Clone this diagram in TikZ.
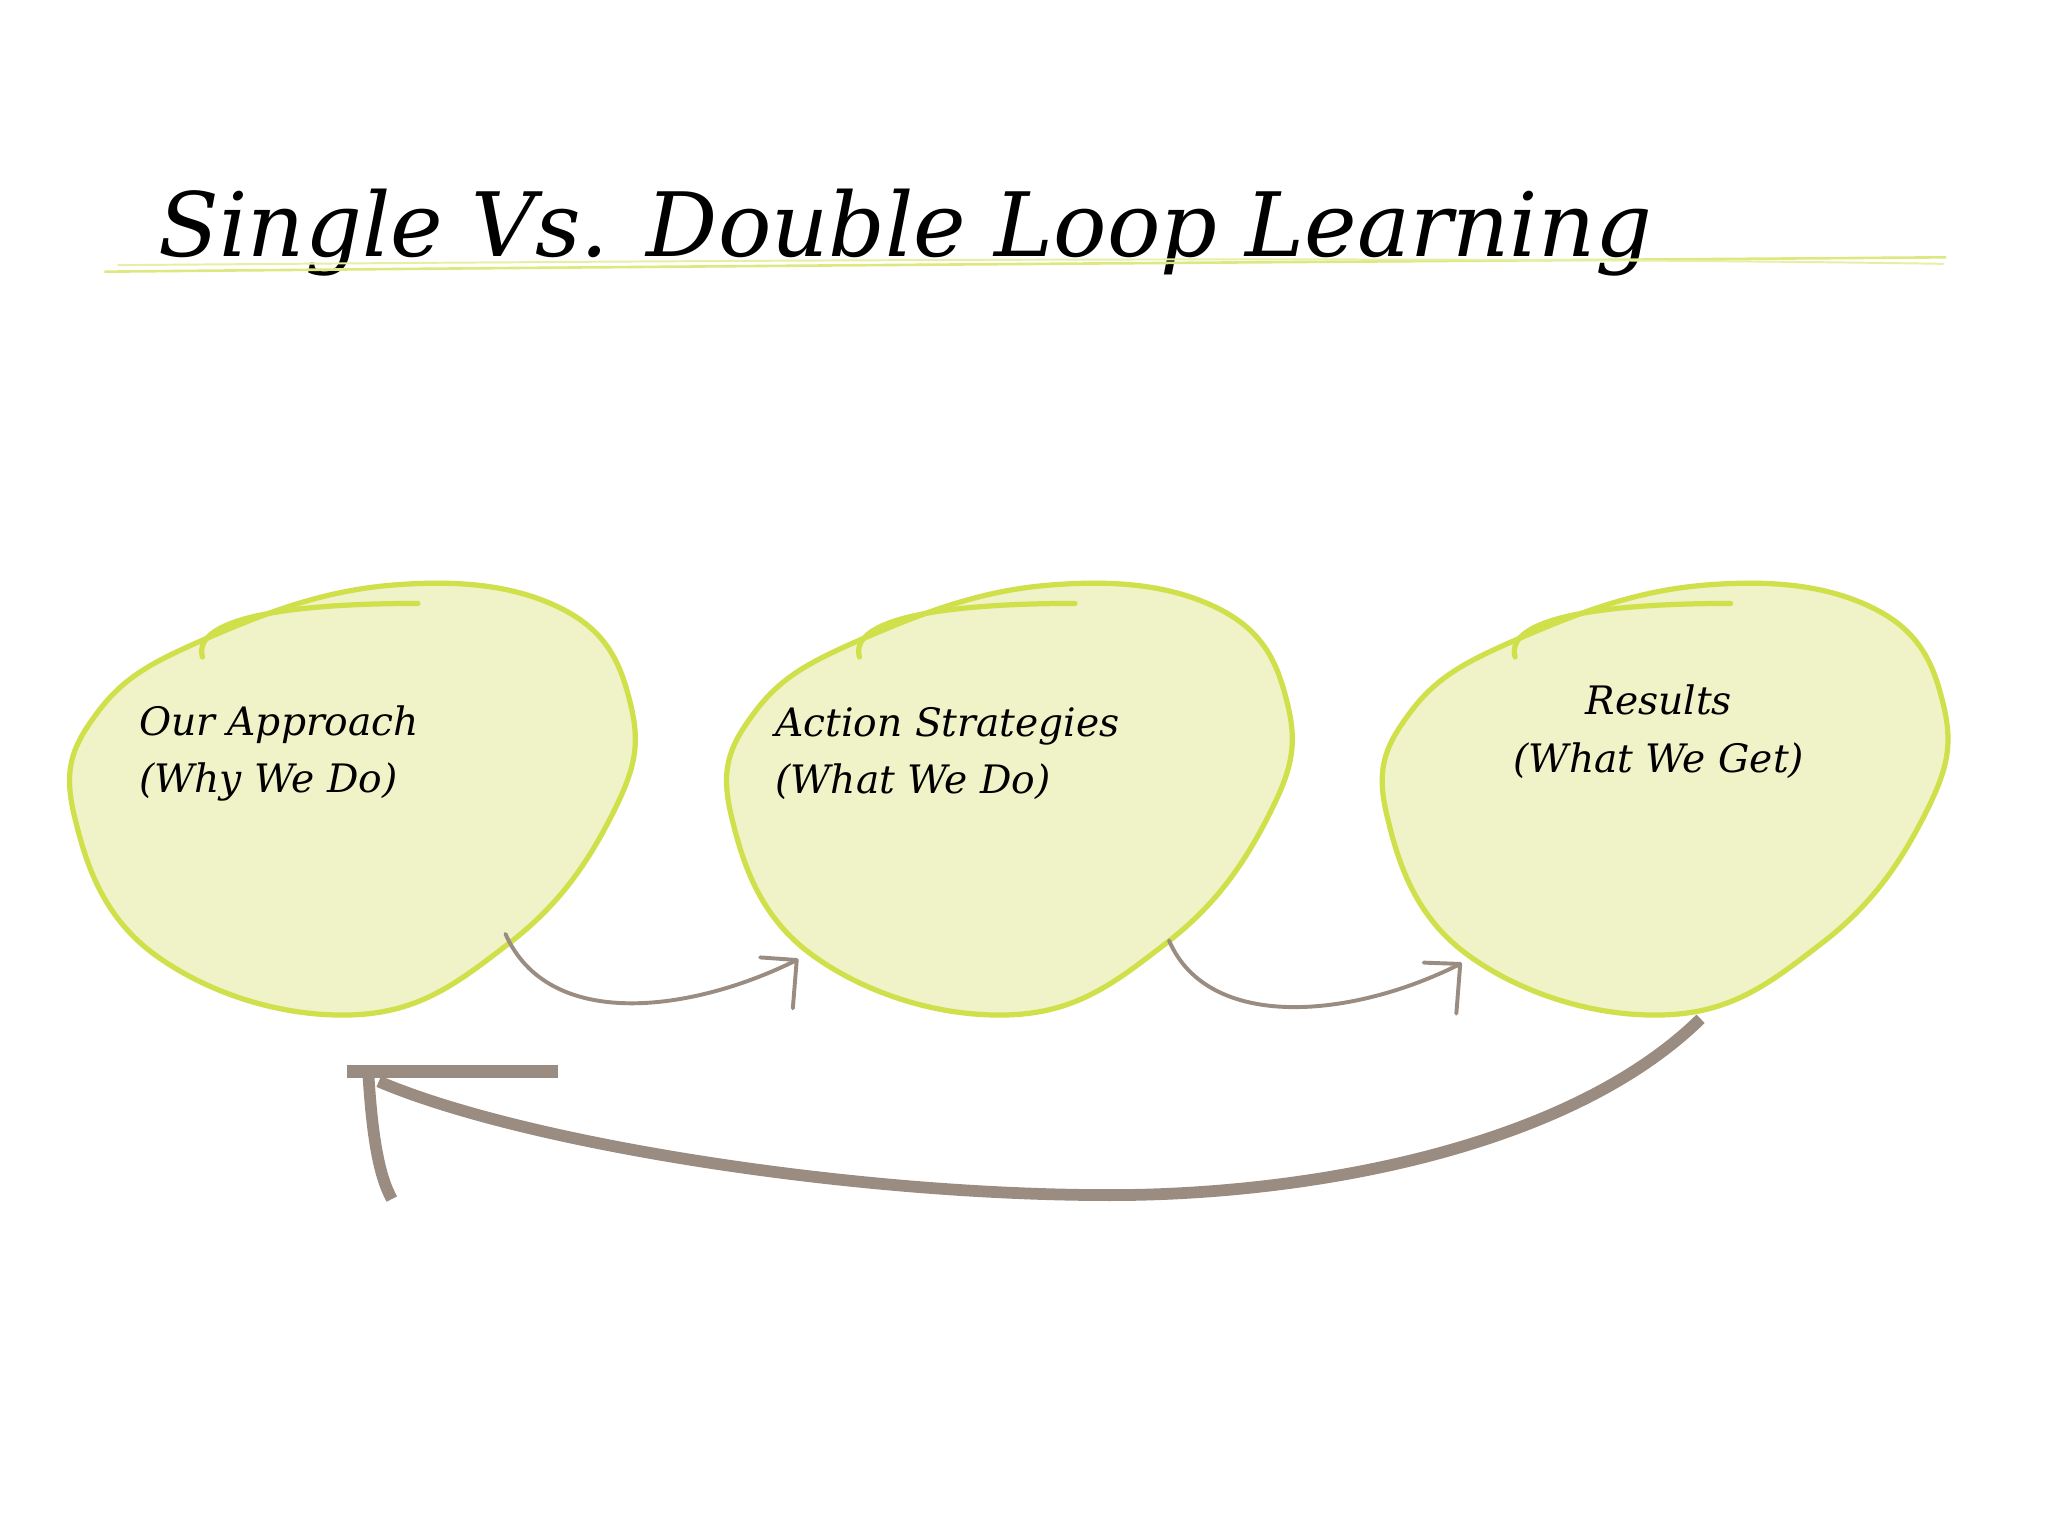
\documentclass[tikz,border=0pt]{standalone}
\usepackage{fontspec}
\setmainfont{DejaVu Serif}
\definecolor{blobfill}{HTML}{F0F2C8}
\definecolor{blobline}{HTML}{CFE04A}
\definecolor{arr}{HTML}{9A8C80}
\tikzset{
 blob/.style={fill=blobfill,draw=blobline,line width=4pt},
 hook/.style={draw=blobline,line width=4pt,line cap=round},
 lbl/.style={font=\fontsize{30}{44}\selectfont\itshape,align=left,anchor=west},
 small/.style={draw=arr,line width=3pt,line cap=round}
}
\begin{document}
\begin{tikzpicture}[x=1pt,y=-1pt]
\useasboundingbox (0,0) rectangle (1568,1176);
\fill[white] (0,0) rectangle (1568,1176);
\node[font=\fontsize{68}{80}\selectfont\itshape,anchor=base west] (title) at (118,196) {Single Vs. Double Loop Learning};
\draw[blobline!70,line width=2pt] (80,208) .. controls (600,203) and (1100,200) .. (1490,197);
\draw[blobline!50,line width=1.5pt] (90,203) .. controls (600,199) and (1100,196) .. (1488,202);
\foreach \dx/\n in {0/a,503/b,1005/c}{
 \begin{scope}[xshift=\dx]
 \draw[blob] plot[smooth cycle,tension=0.7] coordinates {(300,448) (430,466) (483,540) (468,625) (390,722) (270,777) (120,732) (57,625) (75,545) (160,488)};
 \draw[hook] (155,503) .. controls (148,478) and (200,462) .. (320,462);
 \end{scope}
}
\node[lbl] (t1) at (103,577) {Our Approach\\(Why We Do)};
\node[lbl] (t2) at (590,577) {Action Strategies\\(What We Do)};
\node[lbl,anchor=center,align=center] (t3) at (1270,560) {Results\\(What We Get)};
\coordinate (a1) at (387,715); \coordinate (a2) at (610,735);
\coordinate (b1) at (895,720); \coordinate (b2) at (1118,738);
\draw[small] (a1) .. controls (420,790) and (530,775) .. (a2);
\draw[small] (a2) -- (582,733) (a2) -- (607,772);
\draw[small] (b1) .. controls (925,790) and (1035,780) .. (b2);
\draw[small] (b2) -- (1090,737) (b2) -- (1115,776);
\coordinate (c1) at (1302,780); \coordinate (c2) at (290,828);
\draw[arr,line width=9pt] (c1) .. controls (1200,880) and (1000,915) .. (850,915) .. controls (650,915) and (400,875) .. (c2);
\draw[arr,line width=10pt] (266,820) -- (427,820);
\draw[arr,line width=9pt] (282,822) .. controls (285,870) and (290,900) .. (300,918);
\end{tikzpicture}
\end{document}
